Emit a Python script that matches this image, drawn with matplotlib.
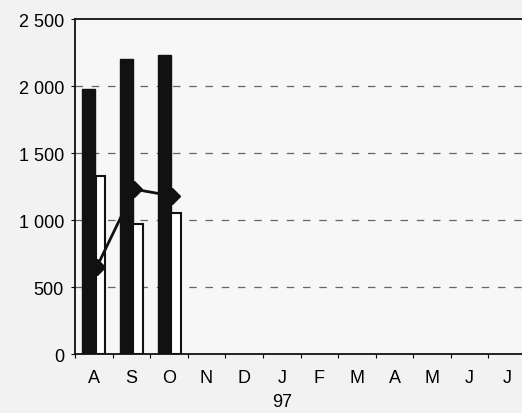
import numpy as np
import matplotlib.pyplot as plt

# mois (août 96 -> juillet 97)
mois = ["A", "S", "O", "N", "D", "J", "F", "M", "A", "M", "J", "J"]
serie_noire = [1980, 2200, 2230]
serie_blanche = [1330, 970, 1050]
courbe = [650, 1230, 1180]

plt.rcParams['font.family'] = ['Liberation Sans', 'DejaVu Sans']

fig = plt.figure(figsize=(5.22, 4.14), dpi=100, facecolor='#f2f2f2')
ax = fig.add_axes([0.1437, 0.1425, 0.864, 0.809])
ax.set_facecolor('#f7f7f7')

x = np.arange(len(mois))
n = len(serie_noire)
ax.bar(x[:n] - 0.13, serie_noire, width=0.35, color='#111111',
       edgecolor='#111111', zorder=3)
ax.bar(x[:n] + 0.18, serie_blanche, width=0.26, color='white',
       edgecolor='#111111', linewidth=1.5, zorder=3)
ax.plot(x[:n] + 0.08, courbe, color='#111111', lw=2, marker='D',
        markersize=8, zorder=4)

ax.set_xlim(-0.5, len(mois) - 0.5)
ax.set_ylim(0, 2500)
ax.set_yticks([0, 500, 1000, 1500, 2000, 2500])
ax.set_yticklabels(["0", "500", "1 000", "1 500", "2 000", "2 500"])
ax.set_xticks(x)
ax.set_xticklabels(mois)
ax.set_xticks(np.arange(len(mois) + 1) - 0.5, minor=True)
ax.tick_params(axis='x', which='major', length=0, pad=11, labelsize=13)
ax.tick_params(axis='x', which='minor', length=3, width=0.8)
ax.tick_params(axis='y', length=3, width=0.8, pad=5, labelsize=13)

for v in [500, 1000, 1500, 2000]:
    ax.axhline(v, color='#666666', lw=0.9, ls=(0, (6, 7)), zorder=1)

for s in ['left', 'bottom', 'top']:
    ax.spines[s].set_color('#111111')
    ax.spines[s].set_linewidth(1.3)
ax.spines['right'].set_visible(False)

ax.text(5, -0.115, "97", transform=ax.get_xaxis_transform(),
        ha='center', va='top', fontsize=13)

fig.savefig("out.png", dpi=100, facecolor=fig.get_facecolor())
